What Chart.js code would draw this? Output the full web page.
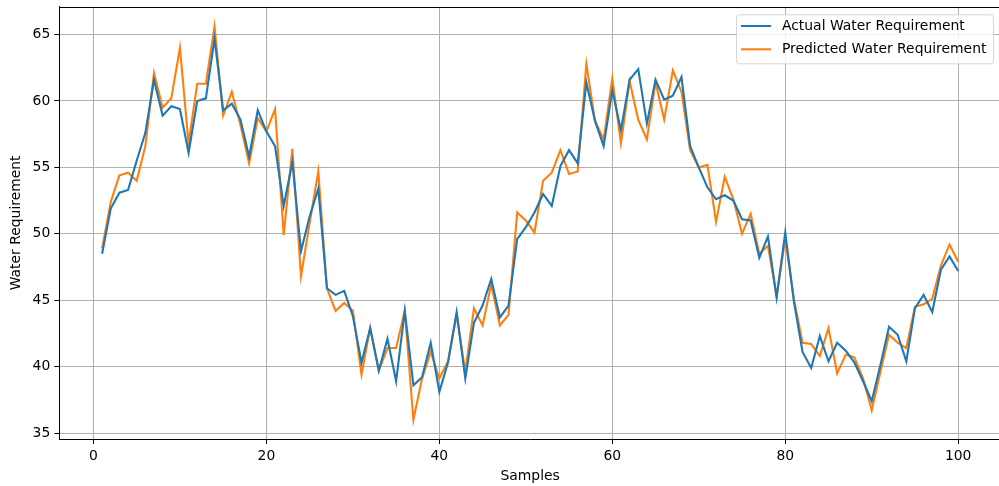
<!DOCTYPE html>
<html><head><meta charset="utf-8">
<script src="https://cdn.jsdelivr.net/npm/chart.js@4"></script>
<style>html,body{margin:0;padding:0;overflow:hidden;background:#fff;width:999px;height:486px}canvas{display:block}</style>
</head><body><canvas id="c" width="1002" height="486"></canvas>
<script>
const samples = [1,2,3,4,5,6,7,8,9,10,11,12,13,14,15,16,17,18,19,20,21,22,23,24,25,26,27,28,29,30,31,32,33,34,35,36,37,38,39,40,41,42,43,44,45,46,47,48,49,50,51,52,53,54,55,56,57,58,59,60,61,62,63,64,65,66,67,68,69,70,71,72,73,74,75,76,77,78,79,80,81,82,83,84,85,86,87,88,89,90,91,92,93,94,95,96,97,98,99,100];
const actual = [48.5,51.9,53.1,53.3,55.5,57.6,61.6,58.9,59.6,59.4,56.1,60.0,60.2,64.7,59.3,59.8,58.6,55.8,59.3,57.7,
  56.6,52.1,55.4,48.7,51.3,53.4,45.9,45.4,45.7,43.8,40.3,42.9,39.7,42.1,38.9,44.2,38.6,39.2,41.8,38.1,
  40.3,44.1,39.1,43.3,44.6,46.6,43.7,44.6,49.6,50.5,51.6,53.0,52.1,55.1,56.3,55.3,61.4,58.5,56.6,60.8,
  57.8,61.6,62.4,58.3,61.6,60.1,60.4,61.8,56.6,55.0,53.5,52.6,52.9,52.5,51.1,51.0,48.2,49.8,45.2,50.1,
  44.9,41.1,39.9,42.3,40.4,41.8,41.2,40.3,38.9,37.4,40.1,43.0,42.4,40.4,44.4,45.4,44.1,47.3,48.3,47.2];
const predicted = [48.9,52.4,54.4,54.6,54.0,56.6,62.1,59.5,60.2,64.0,56.8,61.3,61.3,65.6,58.9,60.7,58.2,55.3,58.7,57.7,
  59.4,49.9,56.4,46.8,50.8,54.7,45.9,44.2,44.8,44.2,39.4,42.9,39.7,41.4,41.4,44.2,36.0,39.1,41.1,39.1,
  40.4,43.9,39.6,44.4,43.1,46.2,43.1,43.9,51.6,51.0,50.1,54.0,54.6,56.3,54.5,54.7,62.8,58.5,57.1,61.7,
  56.8,61.5,58.6,57.1,61.4,58.6,62.3,60.7,56.3,55.0,55.2,50.9,54.3,52.6,50.0,51.5,48.5,49.1,45.3,49.6,
  45.1,41.8,41.7,40.8,42.9,39.5,40.9,40.7,39.1,36.7,39.6,42.4,41.8,41.4,44.5,44.7,45.1,47.6,49.2,47.9];
const seriesLabels = ['Actual Water Requirement','Predicted Water Requirement'];
const xTicks = [0,20,40,60,80,100];
const yTicks = [35,40,45,50,55,60,65];
const xTitle = 'Samples';
const yTitle = 'Water Requirement';

const FONT = 'DejaVu Sans';
const FS = 13.9;

const topSpine = {
  id:'topSpine',
  afterDraw(chart){
    const {ctx, chartArea:ca} = chart;
    ctx.save();
    ctx.strokeStyle = '#000'; ctx.lineWidth = 1;
    ctx.beginPath(); ctx.moveTo(ca.left, Math.round(ca.top)+0.5); ctx.lineTo(ca.right, Math.round(ca.top)+0.5); ctx.stroke();
    ctx.restore();
  }
};
const boxLegend = {
  id:'boxLegend',
  afterDraw(chart){
    const {ctx, chartArea:ca} = chart;
    ctx.save();
    ctx.font = FS + 'px "' + FONT + '"';
    const ds = chart.data.datasets;
    let tw = 0;
    ds.forEach(d => { tw = Math.max(tw, ctx.measureText(d.label).width); });
    const w = 5 + 30 + 11 + tw + 6.6;
    const h = 49;
    const right = ca.right - 8;
    const x0 = right - w, y0 = ca.top + 7.6;
    ctx.beginPath();
    ctx.roundRect(x0 + 0.5, y0 + 0.5, w, h, 3);
    ctx.fillStyle = 'rgba(255,255,255,0.8)'; ctx.fill();
    ctx.strokeStyle = '#d6d6d6'; ctx.lineWidth = 1; ctx.stroke();
    ds.forEach((d, i) => {
      const cy = y0 + 11.7 + i * 23.3;
      ctx.strokeStyle = d.borderColor; ctx.lineWidth = 2;
      ctx.beginPath(); ctx.moveTo(x0 + 5, cy); ctx.lineTo(x0 + 35, cy); ctx.stroke();
      ctx.fillStyle = '#000'; ctx.textBaseline = 'middle'; ctx.textAlign = 'left';
      ctx.fillText(d.label, x0 + 46, cy);
    });
    ctx.restore();
  }
};

function noPad(s){ s.paddingTop = 0; s.paddingBottom = 0; s.paddingLeft = 0; s.paddingRight = 0; }

function axis(extra){
  return Object.assign({
    type:'linear',
    grid:{color:'#b0b0b0', lineWidth:1, tickColor:'#000', tickLength:5, drawTicks:true},
    border:{display:true, color:'#000', width:1},
    ticks:{color:'#000', font:{family:FONT, size:FS}, padding:4, maxRotation:0, autoSkip:false}
  }, extra);
}

new Chart(document.getElementById('c'), {
  type:'line',
  data:{
    datasets:[
      {label:seriesLabels[0], data:samples.map((s,i)=>({x:s,y:actual[i]})), borderColor:'#1f77b4', backgroundColor:'#1f77b4'},
      {label:seriesLabels[1], data:samples.map((s,i)=>({x:s,y:predicted[i]})), borderColor:'#ff7f0e', backgroundColor:'#ff7f0e'}
    ]
  },
  options:{
    responsive:false, animation:false, devicePixelRatio:1,
    layout:{padding:{top:6.7, right:1, left:0, bottom:0}},
    plugins:{legend:{display:false}, tooltip:{enabled:false}, title:{display:false}},
    elements:{point:{radius:0, hoverRadius:0}, line:{borderWidth:2.1, tension:0}},
    scales:{
      x: axis({min:-3.95, max:104.95,
        afterBuildTicks:s=>{ s.ticks = xTicks.map(v=>({value:v})); },
        afterFit:s=>{ s.height = 47; noPad(s); },
        title:{display:true, text:xTitle, color:'#000', font:{family:FONT, size:FS}, padding:{top:0, bottom:1.2}}
      }),
      y: axis({min:34.55, max:67.1,
        afterBuildTicks:s=>{ s.ticks = yTicks.map(v=>({value:v})); },
        afterFit:s=>{ s.width = 59.3; noPad(s); },
        title:{display:true, text:yTitle, color:'#000', font:{family:FONT, size:FS}, padding:{top:8.4, bottom:0}}
      })
    }
  },
  plugins:[topSpine, boxLegend]
});
</script>
</body></html>
